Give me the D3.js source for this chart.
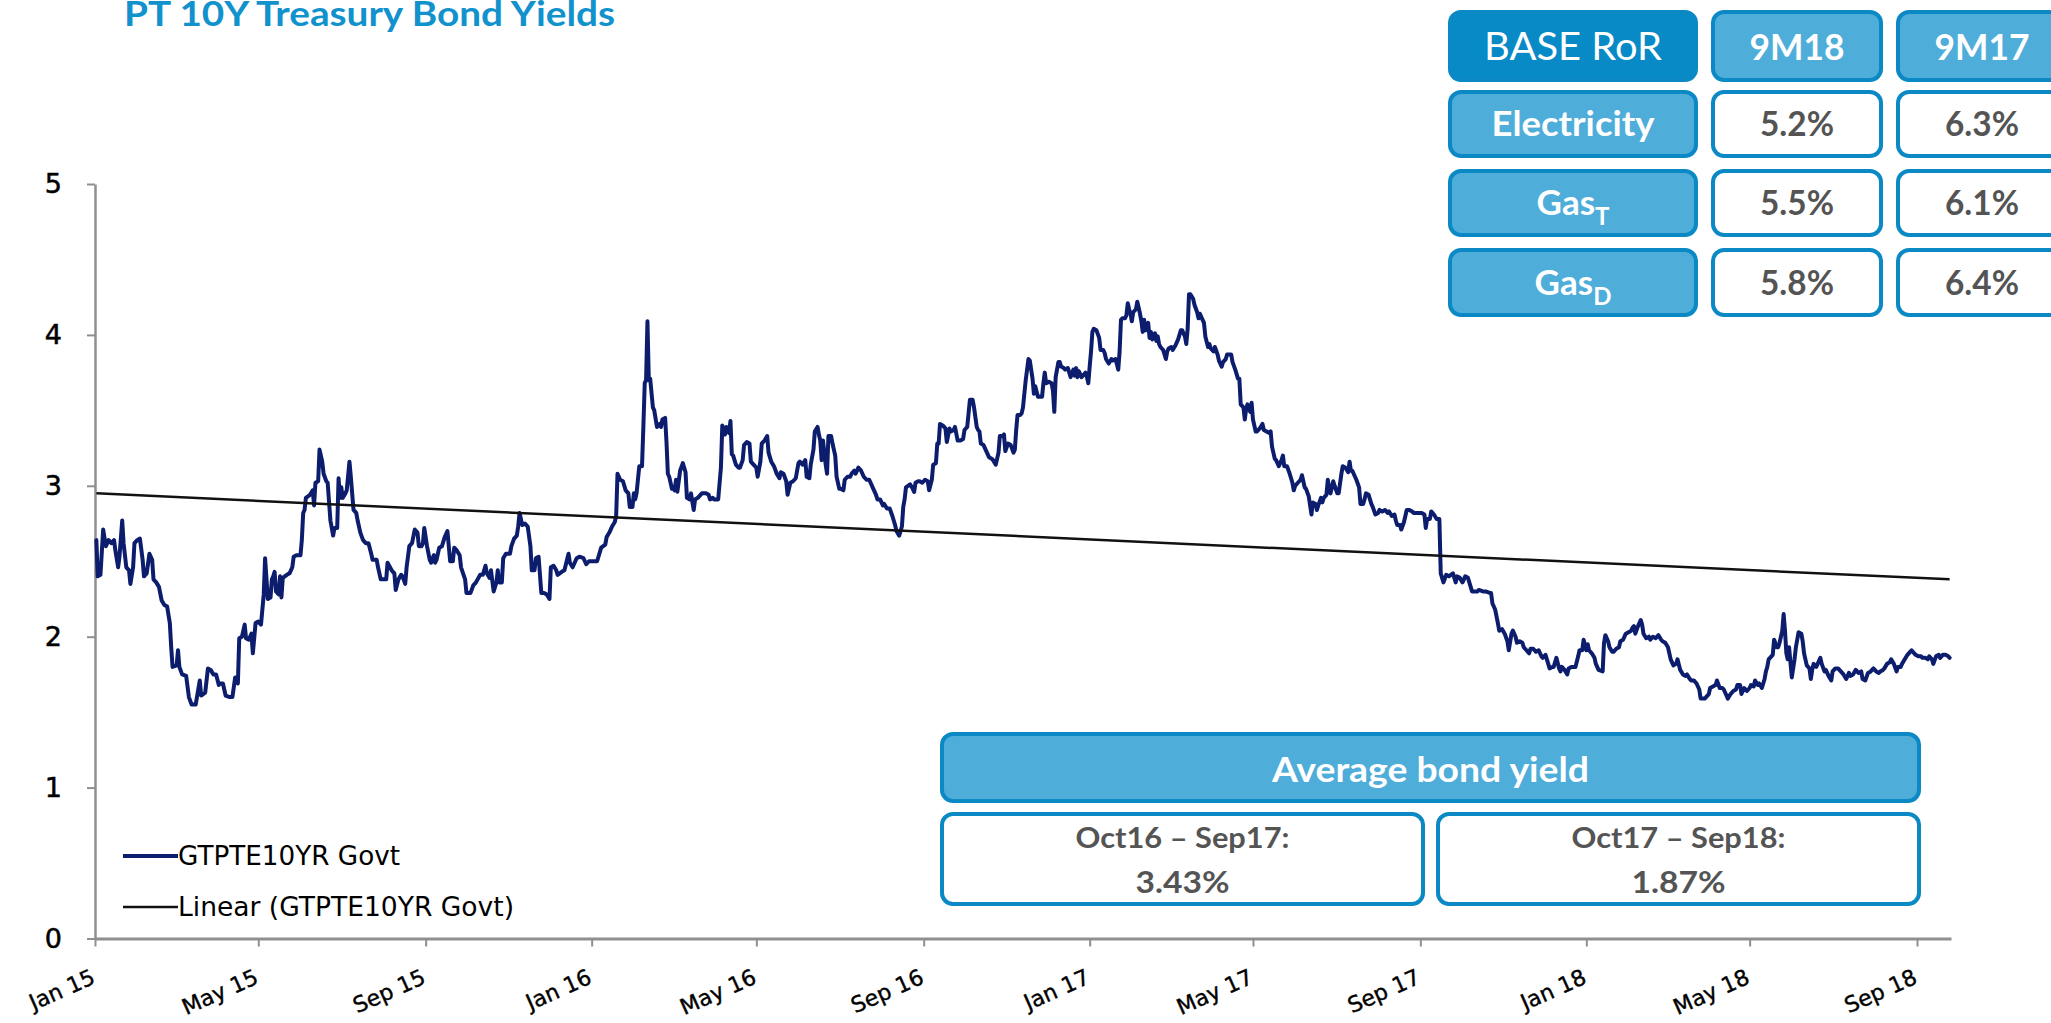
<!DOCTYPE html>
<html>
<head>
<meta charset="utf-8">
<script src="https://cdn.jsdelivr.net/npm/d3@7"></script>
<style>
  html, body { margin: 0; padding: 0; background: #fff; overflow: hidden; }
  svg { display: block; }
</style>
</head>
<body>
<svg id="chart" width="2051" height="1023"></svg>
<script>
// PT 10Y government bond yield (GTPTE10YR Govt), % — [day of year, yield]
const yields2015 = [[2,2.64],[3,2.40],[5,2.41],[7,2.71],[9,2.60],[11,2.64],[13,2.62],[15,2.64],[16,2.57],[18,2.46],[19,2.53],[21,2.77],[22,2.62],[24,2.46],[26,2.44],[27,2.35],[29,2.46],[30,2.62],[32,2.64],[34,2.65],[36,2.51],[37,2.40],[39,2.42],[41,2.55],[43,2.51],[44,2.38],[46,2.36],[48,2.33],[50,2.24],[52,2.21],[54,2.20],[56,2.09],[57,1.93],[58,1.80],[61,1.81],[62,1.91],[63,1.80],[65,1.75],[68,1.74],[70,1.60],[72,1.55],[75,1.55],[78,1.71],[79,1.61],[82,1.63],[84,1.79],[86,1.78],[88,1.75],[90,1.75],[92,1.68],[93,1.69],[95,1.69],[97,1.61],[100,1.60],[102,1.60],[104,1.73],[106,1.69],[107,1.99],[109,2.00],[111,2.08],[112,1.99],[114,1.98],[116,2.02],[117,1.89],[119,2.09],[121,2.10],[123,2.08],[125,2.28],[126,2.52],[128,2.25],[130,2.26],[131,2.38],[132,2.40],[133,2.43],[134,2.30],[136,2.28],[137,2.40],[138,2.26],[139,2.39],[142,2.41],[144,2.42],[146,2.46],[147,2.53],[149,2.54],[152,2.54],[153,2.64],[154,2.82],[155,2.84],[156,2.92],[159,2.94],[161,2.97],[162,2.87],[163,3.02],[165,3.03],[166,3.24],[168,3.16],[169,3.08],[171,3.03],[172,3.02],[174,2.77],[176,2.67],[177,2.72],[179,2.72],[180,3.05],[181,2.92],[182,2.99],[183,2.92],[185,2.95],[186,2.97],[188,3.16],[189,3.06],[191,2.84],[193,2.82],[194,2.77],[196,2.69],[198,2.64],[200,2.62],[202,2.62],[204,2.55],[205,2.51],[208,2.51],[209,2.46],[211,2.38],[213,2.38],[215,2.38],[216,2.49],[219,2.44],[221,2.42],[222,2.31],[224,2.38],[226,2.41],[227,2.40],[229,2.35],[230,2.46],[232,2.60],[234,2.62],[236,2.71],[238,2.69],[239,2.60],[241,2.60],[242,2.62],[243,2.72],[245,2.60],[247,2.51],[248,2.49],[250,2.54],[251,2.49],[252,2.51],[254,2.59],[256,2.60],[258,2.66],[260,2.70],[261,2.60],[262,2.50],[264,2.50],[265,2.59],[267,2.57],[269,2.54],[270,2.46],[273,2.38],[274,2.29],[277,2.29],[279,2.34],[281,2.36],[284,2.41],[286,2.41],[288,2.47],[289,2.42],[291,2.39],[292,2.44],[294,2.30],[296,2.36],[297,2.44],[298,2.36],[300,2.36],[301,2.52],[303,2.55],[306,2.55],[307,2.60],[309,2.65],[311,2.67],[312,2.73],[313,2.82],[315,2.74],[317,2.75],[319,2.73],[321,2.60],[322,2.44],[324,2.44],[325,2.52],[327,2.53],[329,2.29],[331,2.29],[333,2.28],[335,2.25],[336,2.46],[338,2.47],[340,2.44],[341,2.41],[344,2.43],[346,2.44],[349,2.55],[350,2.49],[352,2.46],[355,2.52],[357,2.53],[360,2.52],[362,2.48],[364,2.50]];
const yields2016 = [[2,2.50],[5,2.50],[6,2.53],[8,2.59],[11,2.61],[12,2.66],[14,2.69],[16,2.73],[18,2.76],[19,2.80],[20,3.08],[22,3.04],[24,3.03],[26,2.97],[28,2.95],[29,2.86],[31,2.86],[32,2.95],[33,2.91],[34,2.95],[36,3.13],[38,3.13],[39,3.39],[40,3.68],[41,3.70],[42,4.09],[43,3.70],[44,3.71],[46,3.52],[47,3.50],[49,3.39],[51,3.41],[52,3.39],[53,3.44],[55,3.45],[56,3.29],[57,3.08],[58,3.06],[60,2.98],[61,2.99],[62,2.97],[63,3.04],[64,2.96],[66,3.10],[68,3.15],[70,3.09],[71,2.92],[73,2.91],[74,2.95],[76,2.84],[77,2.91],[79,2.92],[82,2.95],[83,2.95],[85,2.95],[87,2.94],[88,2.91],[90,2.92],[91,2.91],[94,2.91],[96,3.12],[97,3.40],[98,3.37],[99,3.34],[100,3.39],[102,3.35],[103,3.43],[104,3.21],[105,3.20],[107,3.14],[109,3.12],[110,3.12],[112,3.17],[113,3.27],[115,3.29],[117,3.28],[118,3.16],[120,3.14],[122,3.12],[123,3.06],[125,3.16],[126,3.28],[128,3.30],[130,3.33],[131,3.22],[133,3.16],[135,3.13],[137,3.08],[139,3.05],[140,3.09],[142,3.08],[144,3.03],[145,2.94],[147,3.02],[149,3.03],[151,3.05],[153,3.15],[154,3.16],[156,3.14],[158,3.17],[159,3.06],[161,3.05],[162,3.14],[164,3.24],[165,3.36],[167,3.39],[168,3.34],[169,3.30],[170,3.17],[171,3.30],[173,3.14],[174,3.08],[175,3.33],[177,3.33],[178,3.28],[180,3.20],[181,3.06],[183,2.98],[184,2.98],[186,2.97],[187,3.04],[189,3.06],[191,3.06],[192,3.08],[194,3.10],[195,3.08],[197,3.12],[199,3.10],[201,3.06],[203,3.04],[205,3.04],[206,3.02],[208,2.98],[210,2.94],[211,2.91],[213,2.91],[215,2.87],[216,2.88],[218,2.85],[220,2.85],[222,2.80],[224,2.74],[225,2.70],[227,2.67],[229,2.73],[230,2.86],[231,2.91],[232,2.99],[235,3.01],[237,2.98],[238,2.96],[239,3.02],[241,3.03],[242,3.03],[244,3.02],[246,3.04],[248,3.03],[249,2.97],[251,3.04],[252,3.14],[254,3.15],[255,3.28],[256,3.28],[257,3.41],[259,3.40],[261,3.38],[262,3.29],[264,3.38],[265,3.36],[267,3.37],[268,3.39],[270,3.30],[272,3.30],[274,3.31],[275,3.37],[277,3.39],[278,3.48],[279,3.57],[281,3.57],[282,3.52],[284,3.39],[285,3.37],[286,3.36],[287,3.28],[289,3.27],[291,3.23],[293,3.19],[295,3.18],[296,3.17],[298,3.14],[300,3.22],[301,3.33],[303,3.33],[304,3.34],[305,3.23],[307,3.28],[309,3.27],[311,3.22],[312,3.24],[313,3.37],[314,3.47],[316,3.47],[317,3.48],[318,3.52],[320,3.70],[322,3.84],[323,3.83],[325,3.71],[326,3.61],[327,3.66],[329,3.59],[330,3.59],[332,3.59],[333,3.68],[334,3.75],[335,3.68],[337,3.69],[339,3.68],[340,3.63],[341,3.49],[342,3.72],[344,3.82],[345,3.82],[346,3.79],[348,3.78],[349,3.77],[351,3.78],[352,3.75],[353,3.72],[355,3.77],[356,3.73],[357,3.78],[358,3.72],[359,3.76],[361,3.72],[362,3.73],[364,3.75],[365,3.72],[366,3.68]];
const yields2017 = [[1,3.79],[2,3.89],[3,4.02],[4,4.04],[6,4.03],[8,3.98],[9,3.90],[11,3.90],[12,3.88],[13,3.84],[15,3.81],[17,3.84],[18,3.83],[20,3.84],[22,3.77],[23,3.89],[24,4.10],[25,4.11],[27,4.11],[28,4.13],[29,4.21],[30,4.17],[31,4.14],[32,4.09],[33,4.15],[35,4.17],[36,4.22],[38,4.14],[39,4.09],[40,4.02],[41,4.10],[42,4.03],[44,4.08],[45,3.98],[46,4.02],[47,3.97],[49,4.01],[50,3.96],[51,3.99],[52,3.94],[53,3.92],[55,3.90],[57,3.84],[58,3.89],[59,3.91],[61,3.92],[62,3.90],[64,3.93],[66,3.97],[67,4.00],[68,4.03],[69,4.03],[71,3.99],[72,3.94],[73,4.04],[74,4.27],[75,4.27],[77,4.24],[78,4.20],[80,4.15],[81,4.11],[82,4.14],[84,4.10],[85,4.08],[86,3.99],[88,3.92],[89,3.94],[90,3.91],[92,3.89],[93,3.92],[95,3.87],[96,3.83],[98,3.79],[99,3.82],[101,3.84],[102,3.87],[105,3.87],[106,3.82],[108,3.77],[110,3.71],[111,3.71],[112,3.54],[114,3.52],[115,3.44],[116,3.51],[117,3.54],[119,3.49],[120,3.55],[121,3.44],[123,3.36],[124,3.36],[126,3.38],[128,3.41],[129,3.37],[131,3.36],[133,3.35],[134,3.36],[135,3.26],[137,3.18],[138,3.17],[140,3.13],[142,3.17],[143,3.20],[144,3.13],[146,3.13],[148,3.08],[150,3.02],[151,2.97],[152,3.00],[154,3.02],[156,3.04],[157,3.07],[159,2.99],[160,2.98],[162,2.93],[164,2.81],[165,2.89],[167,2.88],[168,2.84],[169,2.87],[171,2.92],[172,2.89],[173,2.92],[175,2.94],[176,3.04],[177,2.98],[178,2.95],[180,3.03],[181,3.00],[183,2.95],[184,2.95],[186,3.08],[187,3.13],[189,3.12],[191,3.09],[192,3.16],[193,3.10],[194,3.10],[195,3.08],[197,3.04],[199,2.99],[200,2.88],[202,2.88],[203,2.91],[204,2.95],[206,2.94],[208,2.88],[209,2.86],[211,2.81],[213,2.82],[214,2.84],[216,2.83],[218,2.84],[220,2.82],[221,2.83],[223,2.80],[225,2.81],[226,2.77],[227,2.74],[229,2.74],[230,2.71],[232,2.76],[234,2.84],[236,2.84],[238,2.83],[239,2.82],[241,2.82],[243,2.82],[245,2.82],[247,2.81],[248,2.72],[249,2.78],[251,2.78],[252,2.83],[254,2.81],[256,2.78],[258,2.78],[259,2.42],[261,2.36],[263,2.41],[265,2.40],[268,2.42],[270,2.36],[271,2.40],[273,2.39],[275,2.36],[277,2.40],[279,2.39],[280,2.36],[282,2.30],[284,2.30],[286,2.30],[287,2.31],[290,2.30],[292,2.30],[295,2.29],[296,2.29],[297,2.22],[299,2.18],[301,2.09],[302,2.04],[304,2.05],[306,2.02],[308,1.97],[309,1.91],[311,2.02],[312,2.04],[314,2.00],[315,1.96],[317,1.97],[319,1.96],[320,1.93],[322,1.91],[324,1.89],[325,1.92],[327,1.92],[329,1.90],[331,1.91],[333,1.87],[334,1.86],[336,1.88],[337,1.85],[339,1.79],[341,1.80],[342,1.80],[344,1.86],[346,1.79],[347,1.77],[348,1.80],[350,1.78],[352,1.75],[353,1.79],[355,1.80],[358,1.80],[360,1.87],[361,1.91],[363,1.91],[364,1.98]];
const yields2018 = [[1,1.91],[2,1.95],[3,1.91],[5,1.89],[7,1.86],[8,1.82],[10,1.78],[13,1.77],[14,1.96],[15,2.01],[17,1.97],[18,1.93],[20,1.90],[21,1.90],[23,1.92],[25,1.93],[26,1.97],[28,1.98],[30,2.02],[32,2.03],[34,2.04],[35,2.06],[36,2.07],[37,2.02],[39,2.07],[40,2.09],[41,2.11],[42,2.08],[43,2.02],[45,1.99],[47,2.00],[48,1.98],[50,2.00],[52,1.99],[54,2.01],[56,1.98],[57,1.97],[59,1.96],[61,1.93],[63,1.85],[65,1.81],[67,1.82],[68,1.85],[70,1.78],[72,1.75],[74,1.74],[75,1.75],[77,1.72],[78,1.71],[80,1.71],[82,1.69],[84,1.65],[85,1.59],[88,1.59],[89,1.60],[91,1.62],[92,1.66],[94,1.67],[96,1.68],[97,1.71],[99,1.66],[101,1.66],[102,1.65],[104,1.61],[105,1.59],[107,1.62],[109,1.64],[111,1.65],[112,1.68],[114,1.68],[115,1.62],[117,1.66],[119,1.64],[121,1.66],[122,1.68],[124,1.67],[125,1.71],[127,1.68],[128,1.69],[130,1.66],[132,1.72],[133,1.77],[134,1.80],[135,1.85],[136,1.86],[138,1.88],[139,1.98],[141,1.93],[142,1.93],[143,1.96],[145,2.04],[146,2.15],[147,2.04],[148,1.89],[149,1.85],[150,1.93],[152,1.73],[154,1.85],[155,1.93],[157,2.03],[159,2.02],[160,1.97],[161,1.89],[162,1.85],[163,1.81],[165,1.79],[166,1.72],[167,1.78],[168,1.82],[170,1.80],[171,1.82],[173,1.86],[174,1.82],[176,1.77],[177,1.78],[179,1.74],[181,1.71],[182,1.77],[184,1.79],[186,1.79],[188,1.77],[190,1.75],[192,1.72],[194,1.76],[195,1.74],[197,1.75],[199,1.78],[201,1.76],[203,1.77],[204,1.72],[206,1.71],[208,1.76],[210,1.77],[212,1.79],[214,1.77],[216,1.76],[217,1.77],[219,1.78],[220,1.79],[222,1.82],[224,1.83],[225,1.85],[227,1.82],[229,1.77],[230,1.80],[232,1.80],[233,1.82],[235,1.85],[237,1.88],[239,1.90],[240,1.91],[242,1.89],[243,1.88],[245,1.87],[247,1.87],[248,1.86],[250,1.86],[252,1.85],[253,1.87],[255,1.85],[256,1.82],[258,1.87],[260,1.88],[261,1.86],[263,1.88],[265,1.88],[267,1.87],[268,1.86]];

// Linear trend of the series: fitted yield at the first and at the last observation
const trendEnds = [2.95, 2.38];

// Axis ticks
const yTicks = [0, 1, 2, 3, 4, 5];
const xTickMonths = [[2015,0],[2015,4],[2015,8],[2016,0],[2016,4],[2016,8],[2017,0],[2017,4],[2017,8],[2018,0],[2018,4],[2018,8]];
const xTickLabels = ["Jan 15","May 15","Sep 15","Jan 16","May 16","Sep 16","Jan 17","May 17","Sep 17","Jan 18","May 18","Sep 18"];

// Legend entries
const legendLabels = ["GTPTE10YR Govt", "Linear (GTPTE10YR Govt)"];

// Allowed return (RoR) table
const rorHeaders = ["BASE RoR", "9M18", "9M17"];
const rorSegments = ["Electricity", "Gas", "Gas"];
const rorSubscripts = ["", "T", "D"];
const ror9M18 = [5.2, 5.5, 5.8];
const ror9M17 = [6.3, 6.1, 6.4];

// Average bond yield panel
const avgTitle = "Average bond yield";
const avgPeriods = ["Oct16 \u2013 Sep17:", "Oct17 \u2013 Sep18:"];
const avgYields = [3.43, 1.87];

const title = "PT 10Y Treasury Bond Yields";

// ---------------------------------------------------------------
const svg = d3.select("#chart");
const NAVY = "#0c1d6d";
const BLUE_DARK = "#078ac6";
const BLUE_LIGHT = "#4fadda";
const BORDER = "#0a89c5";
const GREY_TEXT = "#545454";
const AXIS = "#8f8f8f";
const FONT_AX = "'DejaVu Sans', Verdana, sans-serif";
const FONT_UI = "Lato, 'Open Sans', sans-serif";

const series = [[2015, yields2015], [2016, yields2016], [2017, yields2017], [2018, yields2018]]
  .flatMap(([yr, rows]) => rows.map(([doy, v]) => ({ date: new Date(yr, 0, doy), value: v })));

const x = d3.scaleTime().domain([new Date(2015, 0, 1), new Date(2018, 8, 26)]).range([95, 1951]);
const y = d3.scaleLinear().domain([0, 5]).range([938.5, 184]);

// Title
svg.append("text")
  .attr("x", 124).attr("y", 26)
  .attr("font-family", FONT_UI).attr("font-weight", 700).attr("font-size", 35)
  .attr("fill", "#1192cd")
  .attr("textLength", 491).attr("lengthAdjust", "spacingAndGlyphs")
  .text(title);

// Y axis
const gy = svg.append("g").attr("transform", `translate(${x.range()[0]},0)`)
  .call(d3.axisLeft(y).tickValues(yTicks).tickFormat(d3.format("d")).tickSize(8).tickSizeOuter(0).tickPadding(25));
gy.select(".domain").attr("stroke", AXIS).attr("stroke-width", 2.5);
gy.selectAll(".tick line").attr("stroke", AXIS).attr("stroke-width", 2);
gy.selectAll(".tick text").attr("font-family", FONT_AX).attr("font-size", 27).attr("fill", "#000")
  .attr("stroke", "#000").attr("stroke-width", 0.5);

// X axis
const xTickDates = xTickMonths.map(([yr, m]) => new Date(yr, m, 1));
const gx = svg.append("g").attr("transform", `translate(0,${y(0)})`)
  .call(d3.axisBottom(x).tickValues(xTickDates).tickFormat((d, i) => xTickLabels[i]).tickSize(8).tickSizeOuter(0));
gx.select(".domain").attr("stroke", AXIS).attr("stroke-width", 3);
gx.selectAll(".tick line").attr("stroke", AXIS).attr("stroke-width", 2);
gx.selectAll(".tick text")
  .attr("font-family", FONT_AX).attr("font-size", 22).attr("fill", "#000")
  .attr("stroke", "#000").attr("stroke-width", 0.4)
  .attr("text-anchor", "end").attr("x", 0).attr("y", 0).attr("dy", 0)
  .attr("transform", "translate(1,44) rotate(-24)");

// Series line
const line = d3.line().x(d => x(d.date)).y(d => y(d.value));
svg.append("path").datum(series)
  .attr("fill", "none").attr("stroke", NAVY).attr("stroke-width", 4)
  .attr("stroke-linejoin", "round").attr("stroke-linecap", "round")
  .attr("d", line);

// Linear trend line
const trendPts = [series[0].date, series[series.length - 1].date].map((t, i) => ({ date: t, value: trendEnds[i] }));
svg.append("path").datum(trendPts)
  .attr("fill", "none").attr("stroke", "#111").attr("stroke-width", 2.5)
  .attr("d", line);

// Legend
const legend = svg.append("g");
[[NAVY, 4], ["#111", 2.5]].forEach(([col, w], i) => {
  const ly = 856 + i * 51;
  legend.append("line").attr("x1", 123).attr("x2", 178).attr("y1", ly).attr("y2", ly)
    .attr("stroke", col).attr("stroke-width", w);
  legend.append("text").attr("x", 178).attr("y", ly).attr("dy", "0.36em")
    .attr("font-family", FONT_AX).attr("font-size", 26).attr("fill", "#000")
    .attr("textLength", i === 0 ? 222 : 336).attr("lengthAdjust", "spacingAndGlyphs")
    .text(legendLabels[i]);
});

// Rounded panel cell
function cell(g, x0, y0, w, h, fill) {
  g.append("rect")
    .attr("x", x0 + 2).attr("y", y0 + 2).attr("width", w - 4).attr("height", h - 4)
    .attr("rx", 11).attr("ry", 11)
    .attr("fill", fill).attr("stroke", BORDER).attr("stroke-width", 4);
}
function label(g, cx, by, str, opts) {
  const t = g.append("text").attr("x", cx).attr("y", by).attr("text-anchor", "middle")
    .attr("font-family", FONT_UI).attr("font-weight", opts.weight || 700)
    .attr("font-size", opts.size).attr("fill", opts.fill).text(str);
  if (opts.len) t.attr("textLength", opts.len).attr("lengthAdjust", "spacingAndGlyphs");
  return t;
}

// RoR table
const table = svg.append("g");
const colX = [1448, 1711, 1896], colW = [250, 172, 172];
const rowY = [10, 90, 169, 248], rowH = [72, 68, 68, 69];
const fmtPct = d3.format(".1f");

rorHeaders.forEach((h, c) => {
  cell(table, colX[c], rowY[0], colW[c], rowH[0], c === 0 ? BLUE_DARK : BLUE_LIGHT);
  label(table, colX[c] + colW[c] / 2, 60, h,
    c === 0 ? { size: 38, weight: 400, fill: "#fff", len: 178 } : { size: 36, fill: "#fff", len: 95 });
});
rorSegments.forEach((seg, r) => {
  const ry = rowY[r + 1], rh = rowH[r + 1];
  const base = ry + rh / 2 + 12;
  cell(table, colX[0], ry, colW[0], rh, BLUE_LIGHT);
  const t = label(table, colX[0] + colW[0] / 2, base, seg, { size: 35, fill: "#fff", len: rorSubscripts[r] ? null : 163 });
  if (rorSubscripts[r]) {
    t.text(null);
    t.append("tspan").text(seg);
    t.append("tspan").attr("dy", 10).attr("font-size", 24).text(rorSubscripts[r]);
  }
  [ror9M18, ror9M17].forEach((vals, k) => {
    cell(table, colX[k + 1], ry, colW[k + 1], rh, "#fff");
    label(table, colX[k + 1] + colW[k + 1] / 2, base, fmtPct(vals[r]) + "%", { size: 34, fill: GREY_TEXT, len: 74 });
  });
});

// Average bond yield panel
const avg = svg.append("g");
cell(avg, 940, 732, 981, 71, BLUE_LIGHT);
label(avg, 1430.5, 782, avgTitle, { size: 35, fill: "#fff", len: 317 });
const boxX = [940, 1436], boxW = 485;
avgPeriods.forEach((p, i) => {
  cell(avg, boxX[i], 812, boxW, 94, "#fff");
  const cx = boxX[i] + boxW / 2;
  label(avg, cx, 848, p, { size: 28, fill: GREY_TEXT, len: 214 });
  label(avg, cx, 893, d3.format(".2f")(avgYields[i]) + "%", { size: 31, fill: GREY_TEXT, len: 94 });
});
</script>
</body>
</html>
